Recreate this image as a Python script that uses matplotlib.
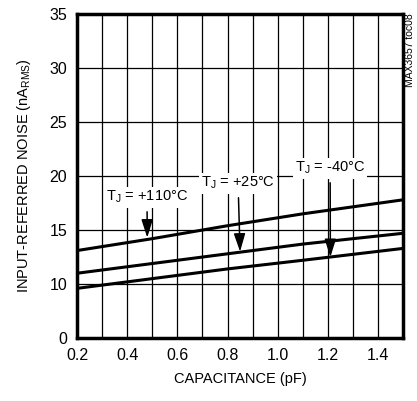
import matplotlib
matplotlib.use("Agg")
import matplotlib.pyplot as plt
import numpy as np

plt.rcParams['font.family'] = ['Liberation Sans', 'DejaVu Sans']
plt.rcParams['mathtext.fontset'] = 'custom'
plt.rcParams['mathtext.rm'] = 'Liberation Sans'

# datos
cap = [0.2, 0.5, 0.8, 1.1, 1.5]
ruido_110 = [13.1, 14.2, 15.4, 16.5, 17.8]
ruido_25 = [11.0, 11.9, 12.8, 13.7, 14.7]
ruido_m40 = [9.6, 10.5, 11.4, 12.2, 13.3]

y_ticks = [5, 10, 15, 20, 25, 30, 35]
y_labels = ['0', '10', '15', '20', '25', '30', '35']
x_ticks = [0.2, 0.4, 0.6, 0.8, 1.0, 1.2, 1.4]

fig = plt.figure(figsize=(4.17, 4.01), dpi=100)
ax = fig.add_axes([0.1847, 0.157, 0.782, 0.808])

for serie in (ruido_110, ruido_25, ruido_m40):
    ax.plot(cap, serie, color='black', lw=2.2, zorder=3)

ax.set_xlim(0.2, 1.5)
ax.set_ylim(5, 35)
ax.set_xticks(x_ticks)
ax.set_xticklabels([f"{v:.1f}" for v in x_ticks])
ax.set_xticks(np.arange(0.3, 1.5, 0.1), minor=True)
ax.set_yticks(y_ticks)
ax.set_yticklabels(y_labels)
ax.tick_params(which='both', length=0, labelsize=11.5, pad=7)
ax.grid(True, which='both', color='black', lw=0.9)
ax.grid(False, which='minor', axis='y')
for s in ax.spines.values():
    s.set_linewidth(2.5)

ax.set_xlabel("CAPACITANCE (pF)", fontsize=10.5, labelpad=7)
ax.set_ylabel("INPUT-REFERRED NOISE (nA$_{\\mathregular{RMS}}$)", fontsize=10.5, labelpad=12)

flecha = dict(arrowstyle='-|>,head_length=1.1,head_width=0.35', color='black',
              lw=1.1, shrinkA=3, shrinkB=0, mutation_scale=10)
caja = dict(boxstyle='square,pad=0.15', fc='white', ec='none')
etiquetas = [("T$_{\\mathregular{J}}$ = +110°C", (0.48, 14.3), (0.479, 18.05)),
             ("T$_{\\mathregular{J}}$ = +25°C", (0.85, 13.0), (0.842, 19.35)),
             ("T$_{\\mathregular{J}}$ = -40°C", (1.21, 12.5), (1.209, 20.74))]
for txt, punta, pos in etiquetas:
    ax.annotate(txt, xy=punta, xytext=pos, ha='center', va='center',
                fontsize=10.5, bbox=caja, arrowprops=flecha, zorder=5)

fig.text(0.983, 0.967, "MAX3657 toc08", rotation=90, fontsize=7.5,
         ha='center', va='top')

fig.savefig("out.png", dpi=100)
